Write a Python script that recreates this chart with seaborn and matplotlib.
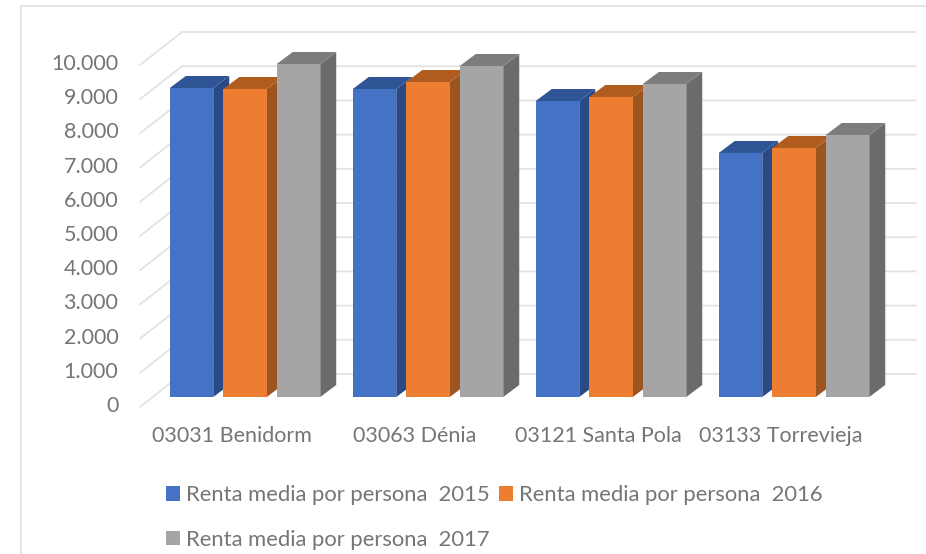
import pandas as pd
import seaborn as sns
import matplotlib.pyplot as plt
from matplotlib.patches import Polygon
from matplotlib.transforms import Affine2D

municipios = ['03031 Benidorm', '03063 Dénia', '03121 Santa Pola', '03133 Torrevieja']
renta_2015 = [9035, 9006, 8655, 7135]
renta_2016 = [9006, 9210, 8772, 7281]
renta_2017 = [9737, 9678, 9152, 7661]
series = ['Renta media por persona  2015', 'Renta media por persona  2016', 'Renta media por persona  2017']
yticks = [0, 1000, 2000, 3000, 4000, 5000, 6000, 7000, 8000, 9000, 10000]

colors = ['#4472C4', '#ED7D31', '#A5A5A5']
side_colors = ['#2A4A85', '#9C5420', '#6B6B6B']
top_colors = ['#2F5597', '#B05C1E', '#7C7C7C']
W, H = 926, 554

df = pd.DataFrame({'Municipio': municipios * 3,
                   'Serie': [s for s in series for _ in municipios],
                   'Renta': renta_2015 + renta_2016 + renta_2017})

sns.set_style('white')
plt.rcParams['font.family'] = ['Lato', 'DejaVu Sans']

fig = plt.figure(figsize=(W / 100, H / 100), dpi=100)
# front plane of the fake 3D box: px 140..916, 10000 at y=55, 0 at y=397
ax = fig.add_axes([140 / W, 1 - 397 / H, 776 / W, 342 / H])
ax.patch.set_alpha(0)

sns.barplot(data=df, x='Municipio', y='Renta', hue='Serie', palette=colors,
            saturation=1, width=.877, gap=.187, ax=ax, zorder=5, linewidth=0)
ax.set_xlim((140 - 245) / 183, (916 - 245) / 183)
ax.set_ylim(0, 10000)
sns.despine(ax=ax, left=True, bottom=True)
ax.set_xlabel('')
ax.set_ylabel('')

# walls: grid at the back, diagonal on the left side
px_per_unit = 342 / 10000
for v in yticks:
    y = H - (397 - v * px_per_unit)
    fig.add_artist(plt.Line2D([140 / W, 182 / W, 916 / W],
                              [(y - 10) / H, (y + 23) / H, (y + 23) / H],
                              color='#E2E2E2', lw=1.3, zorder=0))

# side and top faces of each bar, built from the patches seaborn drew
dx, dy = 16, 12
for i, cont in enumerate(ax.containers):
    for j, bar in enumerate(cont):
        x0, x1 = bar.get_x(), bar.get_x() + bar.get_width()
        top = bar.get_height()
        (px0, py0), (px1, py1) = ax.transData.transform([(x0, 0), (x1, top)])
        side = [(px1, py0), (px1 + dx, py0 + dy), (px1 + dx, py1 + dy), (px1, py1)]
        roof = [(px0, py1), (px0 + dx, py1 + dy), (px1 + dx, py1 + dy), (px1, py1)]
        z = 5 + j * 3 + i * .3
        bar.set_zorder(z + .2)
        ax.add_patch(Polygon(side, closed=True, color=side_colors[i], lw=0,
                             transform=None, zorder=z, clip_on=False))
        ax.add_patch(Polygon(roof, closed=True, color=top_colors[i], lw=0,
                             transform=None, zorder=z + .1, clip_on=False))

ax.set_yticks(yticks)
ax.set_yticklabels([f'{v:,}'.replace(',', '.') for v in yticks])
ax.tick_params(axis='y', length=0, pad=15.5, labelsize=15.5, labelcolor='#757575')
ax.tick_params(axis='x', length=0, pad=21, labelsize=15.5, labelcolor='#757575')
for lab in ax.get_yticklabels():
    lab.set_transform(lab.get_transform() + Affine2D().translate(0, -7))
for lab in ax.get_xticklabels():
    lab.set_transform(lab.get_transform() + Affine2D().translate(-13, 0))

# legend: two columns, the third entry wraps below the first
handles, labels = ax.get_legend_handles_labels()
idx = [0, 2, 1]
ax.legend([handles[k] for k in idx], [labels[k] for k in idx], ncol=2,
          frameon=False, fontsize=15.8, labelcolor='#757575',
          loc='upper left', bbox_to_anchor=(166 / W, 1 - 485 / H),
          bbox_transform=fig.transFigure, borderpad=0, borderaxespad=0,
          handlelength=.64, handleheight=.64, handletextpad=.27,
          labelspacing=1.13, columnspacing=.42)

# chart area frame, cut by the picture on the right and at the bottom
fig.add_artist(plt.Line2D([21 / W, 21 / W, 1], [0, 1 - 6 / H, 1 - 6 / H],
                          color='#E2E2E2', lw=1.3))

fig.savefig('out.png', dpi=100)
